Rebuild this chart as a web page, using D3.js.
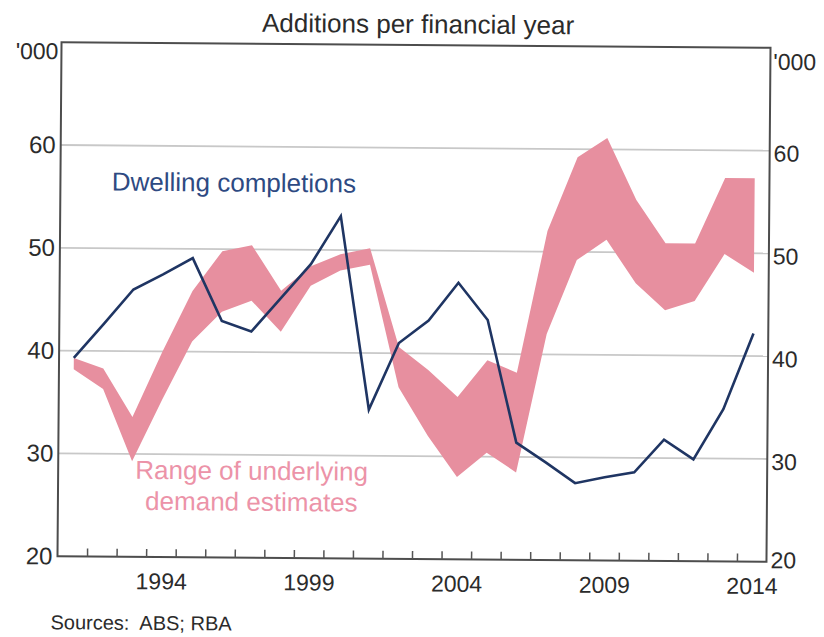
<!DOCTYPE html>
<html>
<head>
<meta charset="utf-8">
<script src="https://cdn.jsdelivr.net/npm/d3@7"></script>
<style>
  body { margin: 0; background: #fff; }
  svg text { font-family: "Liberation Sans", Arial, sans-serif; fill: #2b2b2b; }
</style>
</head>
<body>
<div id="chart"></div>
<script>

// financial years (year ending June)
var years = d3.range(1991, 2015)

// dwelling completions, '000
var completions = [39.3, 42.6, 46.0, 47.5, 49.1, 43.0, 42.0, 45.3, 48.6, 53.3, 34.5, 41.0,
                   43.2, 46.9, 43.3, 31.4, 29.5, 27.5, 28.1, 28.6, 31.8, 29.9, 34.8, 42.2]

// range of underlying demand estimates, '000
var demandLow  = [38.2, 36.3, 29.3, 35.3, 41.0, 43.9, 45.0, 42.0, 46.5, 48.0, 48.6, 36.7,
                  32.0, 28.0, 30.4, 28.5, 42.0, 49.2, 51.2, 47.0, 44.4, 45.3, 49.9, 48.1]
var demandHigh = [39.3, 38.3, 33.6, 40.0, 45.9, 49.8, 50.4, 46.0, 48.4, 49.6, 50.2, 40.6,
                  38.4, 35.8, 39.4, 38.2, 52.0, 59.2, 61.1, 55.1, 50.9, 50.9, 57.3, 57.3]

var yTicks = [20, 30, 40, 50, 60]
var gridValues = [30, 40, 50, 60]
var labelYears = [1994, 1999, 2004, 2009, 2014]

var width = 824, height = 637
var plot = { left: 59.5, right: 768.5, top: 45, bottom: 559 }

var svg = d3.select("#chart").append("svg")
    .attr("width", width)
    .attr("height", height)

svg.append("rect").attr("width", width).attr("height", height).attr("fill", "#fff")

// the source is a slightly tilted photo of the page
var g = svg.append("g").attr("transform", "rotate(0.45, 414, 302)")

var x = d3.scaleLinear().domain([1990.5, 2014.5]).range([plot.left, plot.right])
var y = d3.scaleLinear().domain([20, 70]).range([plot.bottom, plot.top])

var rows = years.map(function(yr, i) {
    return { year: yr, value: completions[i], lo: demandLow[i], hi: demandHigh[i] }
})

// grid
g.append("g").selectAll("line")
    .data(gridValues)
    .enter().append("line")
    .attr("x1", plot.left).attr("x2", plot.right)
    .attr("y1", d => y(d)).attr("y2", d => y(d))
    .attr("stroke", "#c8c8c8")
    .attr("stroke-width", 1.8)

// demand band
var area = d3.area()
    .x(d => x(d.year))
    .y0(d => y(d.lo))
    .y1(d => y(d.hi))

g.append("path")
    .datum(rows)
    .attr("d", area)
    .attr("fill", "#e78f9f")

// completions line
var line = d3.line()
    .x(d => x(d.year))
    .y(d => y(d.value))

g.append("path")
    .datum(rows)
    .attr("d", line)
    .attr("fill", "none")
    .attr("stroke", "#1f3563")
    .attr("stroke-width", 2.6)
    .attr("stroke-linejoin", "miter")

// frame
g.append("rect")
    .attr("x", plot.left).attr("y", plot.top)
    .attr("width", plot.right - plot.left)
    .attr("height", plot.bottom - plot.top)
    .attr("fill", "none")
    .attr("stroke", "#4d4d4d")
    .attr("stroke-width", 2)

// year boundary ticks pointing inward
var xTickAxis = d3.axisBottom(x)
    .tickValues(d3.range(1991.5, 2014, 1))
    .tickSize(-8)
    .tickFormat("")

var xt = g.append("g")
    .attr("transform", "translate(0," + plot.bottom + ")")
    .call(xTickAxis)
xt.select(".domain").remove()
xt.selectAll("line").attr("stroke", "#555").attr("stroke-width", 1.5)

var xLabelAxis = d3.axisBottom(x)
    .tickValues(labelYears)
    .tickSize(0)
    .tickPadding(16)
    .tickFormat(d3.format("d"))

var xl = g.append("g")
    .attr("transform", "translate(0," + plot.bottom + ")")
    .call(xLabelAxis)
xl.select(".domain").remove()
xl.selectAll("text").attr("font-size", 23).attr("fill", "#2b2b2b")

// y axes
var yl = g.append("g")
    .attr("transform", "translate(" + (plot.left - 3) + ",0)")
    .call(d3.axisLeft(y).tickValues(yTicks).tickSize(0).tickPadding(2))
yl.select(".domain").remove()
yl.selectAll("text").attr("font-size", 24).attr("fill", "#2b2b2b")

var yr = g.append("g")
    .attr("transform", "translate(" + (plot.right + 2) + ",0)")
    .call(d3.axisRight(y).tickValues(yTicks).tickSize(0).tickPadding(2))
yr.select(".domain").remove()
yr.selectAll("text")
    .attr("font-size", 23)
    .attr("fill", "#2b2b2b")
    .attr("y", d => d === 20 ? -1.5 : 3)

// units
g.append("text").attr("x", plot.left - 3).attr("y", 62)
    .attr("text-anchor", "end").attr("font-size", 23).text("'000")
g.append("text").attr("x", plot.right + 3).attr("y", 67)
    .attr("text-anchor", "start").attr("font-size", 23).text("'000")

// title
g.append("text").attr("x", 416).attr("y", 33)
    .attr("text-anchor", "middle").attr("font-size", 26).text("Additions per financial year")

// series labels
g.append("text").attr("x", 233).attr("y", 193)
    .attr("text-anchor", "middle").attr("font-size", 26)
    .style("fill", "#2e4a82").text("Dwelling completions")

var demandLabel = g.append("text").attr("x", 253).attr("y", 481)
    .attr("text-anchor", "middle").attr("font-size", 26)
    .style("fill", "#ec93a8")
demandLabel.append("tspan").attr("x", 253).attr("dy", 0).text("Range of underlying")
demandLabel.append("tspan").attr("x", 253).attr("dy", 31).text("demand estimates")

// source
g.append("text").attr("x", 53).attr("y", 632)
    .attr("font-size", 20)
    .style("white-space", "pre")
    .text("Sources:  ABS; RBA")

</script>
</body>
</html>
